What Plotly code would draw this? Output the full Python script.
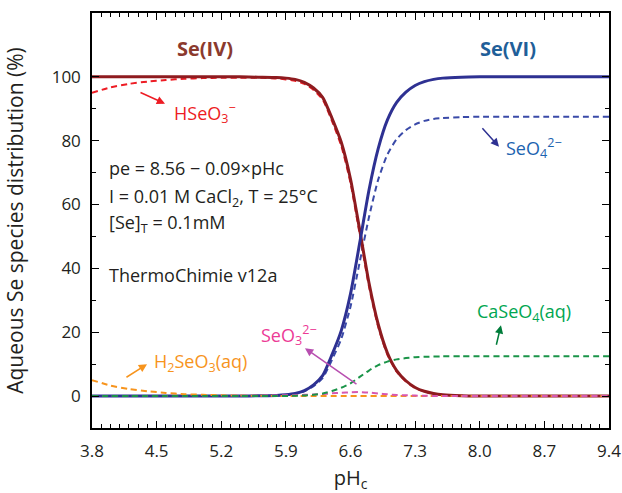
import plotly.graph_objects as go

ph = [3.8, 4.0, 4.2, 4.4, 4.6, 4.8, 5.0, 5.2, 5.4, 5.6, 5.8, 5.9, 6.0, 6.1, 6.2, 6.3, 6.4, 6.5,
      6.6, 6.7, 6.8, 6.9, 7.0, 7.1, 7.2, 7.3, 7.4, 7.5, 7.6, 7.8, 8.0, 8.3, 8.7, 9.0, 9.4]

se_iv = [100, 100, 100, 100, 100, 100, 100, 100, 100, 99.9, 99.8,
         99.6, 99.2, 98.3, 96.5, 93.5, 87, 79.5, 68, 52, 35.5, 22.5, 13.5, 8, 4.8, 2.7,
         1.5, 0.8, 0.4, 0.1, 0, 0, 0, 0, 0]
se_vi = [0, 0, 0, 0, 0, 0, 0, 0, 0, 0.1, 0.2,
         0.4, 0.8, 1.7, 3.5, 6.5, 13, 20.5, 32, 48, 64.5, 77.5, 86.5, 92, 95.2, 97.3,
         98.5, 99.2, 99.6, 99.9, 100, 100, 100, 100, 100]
hseo3 = [95.0, 96.7, 97.8, 98.5, 99.0, 99.4, 99.6, 99.7, 99.7, 99.7, 99.5,
         99.2, 98.8, 97.8, 95.9, 92.8, 86.1, 78.4, 66.8, 50.7, 34.4, 21.7, 12.95, 7.65, 4.55, 2.55,
         1.4, 0.75, 0.37, 0.09, 0, 0, 0, 0, 0]
h2seo3 = [5.0, 3.3, 2.2, 1.5, 1.0, 0.6, 0.4, 0.25, 0.15, 0.1, 0.05,
          0.04, 0.03, 0.02, 0.02, 0.01, 0.01, 0.01, 0, 0, 0, 0, 0, 0, 0, 0,
          0, 0, 0, 0, 0, 0, 0, 0, 0]
seo3 = [0, 0, 0, 0, 0.01, 0.02, 0.03, 0.05, 0.08, 0.12, 0.2,
        0.25, 0.3, 0.4, 0.5, 0.65, 0.85, 1.0, 1.2, 1.25, 1.1, 0.8, 0.55, 0.35, 0.25, 0.15,
        0.1, 0.05, 0.03, 0.01, 0, 0, 0, 0, 0]
seo4 = [0, 0, 0, 0, 0, 0, 0, 0, 0, 0.08, 0.17,
        0.35, 0.7, 1.5, 3.1, 5.7, 11.4, 17.9, 28, 42, 56, 67.8, 75.7, 80.5, 83.3, 85.1,
        86.2, 86.8, 87.1, 87.4, 87.5, 87.5, 87.5, 87.5, 87.5]
caseo4 = [0, 0, 0, 0, 0, 0, 0, 0, 0, 0.01, 0.03,
          0.05, 0.1, 0.2, 0.4, 0.8, 1.6, 2.6, 4.0, 6.0, 8.0, 9.7, 10.8, 11.5, 11.9, 12.2,
          12.3, 12.4, 12.45, 12.5, 12.5, 12.5, 12.5, 12.5, 12.5]

x_ticks = [3.8, 4.5, 5.2, 5.9, 6.6, 7.3, 8.0, 8.7, 9.4]
x_tick_labels = ["3.8", "4.5", "5.2", "5.9", "6.6", "7.3", "8.0", "8.7", "9.4"]
y_ticks = [0, 20, 40, 60, 80, 100]
y_minor = [10, 30, 50, 70, 90]

FONT = "Open Sans"
TXT = "#231f20"
DASH = "6px,4px"
ASZ = 18

fig = go.Figure()

def add(y, color, width, dash=None):
    fig.add_trace(go.Scatter(x=ph, y=y, mode="lines",
                             line=dict(color=color, width=width, dash=dash,
                                       shape="spline", smoothing=0.6),
                             hoverinfo="skip", showlegend=False))

add(hseo3, "#ed1c24", 2, DASH)
add(seo4, "#3a4aa8", 2, DASH)
add(se_iv, "#8e1b1f", 3)
add(se_vi, "#2e3192", 3)
add(h2seo3, "#f7941d", 2, DASH)
add(seo3, "#d757b0", 2, DASH)
add(caseo4, "#1a9448", 2, DASH)

ann = []
def text(x, y, s, color, size=ASZ, bold=False, xanchor="left"):
    ann.append(dict(x=x, y=y, xref="x", yref="y", text=("<b>%s</b>" % s) if bold else s,
                    showarrow=False, xanchor=xanchor, yanchor="middle", borderpad=0,
                    font=dict(family=FONT, size=size, color=color)))

def arrow(x0, y0, x1, y1, color):
    ann.append(dict(x=x1, y=y1, ax=x0, ay=y0, xref="x", yref="y", axref="x", ayref="y",
                    text="", showarrow=True, arrowhead=2, arrowsize=1.1, arrowwidth=1.5,
                    arrowcolor=color, standoff=0, startstandoff=0))

text(5.024, 108.75, "Se(IV)", "#8b3a2e", 20, True, "center")
text(8.306, 108.75, "Se(VI)", "#1f5f99", 20, True, "center")
text(4.677, 88.75, "HSeO<sub>3</sub><sup>−</sup>", "#ed1c24")
arrow(4.309, 95.3, 4.591, 91.6, "#ed1c24")
text(8.274, 77.8, "SeO<sub>4</sub><sup>2−</sup>", "#1c63b0")
arrow(8.014, 84.4, 8.209, 78.1, "#2e3192")
text(3.973, 71.6, "pe = 8.56 − 0.09×pHc", TXT)
text(3.973, 62.2, "I = 0.01 M CaCl<sub>2</sub>, T = 25°C", TXT)
text(3.973, 54.0, "[Se]<sub>T</sub> = 0.1mM", TXT)
text(3.973, 37.8, "ThermoChimie v12a", TXT)
text(5.62, 19.06, "SeO<sub>3</sub><sup>2−</sup>", "#ec3b96")
arrow(6.681, 3.44, 6.107, 15.0, "#b84fb0")
text(4.461, 10.6, "H<sub>2</sub>SeO<sub>3</sub>(aq)", "#f7941d")
arrow(4.157, 5.6, 4.396, 10.0, "#f7941d")
text(7.96, 26.25, "CaSeO<sub>4</sub>(aq)", "#00a651")
arrow(8.176, 15.6, 8.23, 22.2, "#007c3a")

fig.update_layout(
    width=622, height=493,
    margin=dict(l=92, r=13, t=13, b=65),
    paper_bgcolor="white", plot_bgcolor="white",
    font=dict(family=FONT, size=17, color=TXT),
    annotations=ann,
    xaxis=dict(range=[3.8, 9.4], tickvals=x_ticks, ticktext=x_tick_labels,
               ticks="inside", ticklen=7, tickwidth=1.2, tickcolor="black",
               minor=dict(ticks="inside", ticklen=4, tickwidth=1, tickcolor="black",
                          tick0=3.8, dtick=0.1),
               showline=True, linecolor="black", linewidth=1.5, mirror="allticks",
               showgrid=False, zeroline=False, ticklabelstandoff=7, automargin=False,
               tickfont=dict(family=FONT, size=17, color=TXT),
               title=dict(text="pH<sub>c</sub>", font=dict(family=FONT, size=20, color=TXT),
                          standoff=10)),
    yaxis=dict(range=[-10, 120], tickvals=y_ticks,
               ticks="inside", ticklen=7, tickwidth=1.2, tickcolor="black",
               minor=dict(ticks="inside", ticklen=4, tickwidth=1, tickcolor="black",
                          tickvals=y_minor),
               showline=True, linecolor="black", linewidth=1.5, mirror="allticks",
               showgrid=False, zeroline=False, ticklabelstandoff=6, automargin=False,
               tickfont=dict(family=FONT, size=17, color=TXT),
               title=dict(text="Aqueous Se species distribution (%)",
                          font=dict(family=FONT, size=21, color=TXT), standoff=22)),
)

fig.write_html("out.html", config={"displayModeBar": False},
               post_script="document.body.style.margin='0';")
